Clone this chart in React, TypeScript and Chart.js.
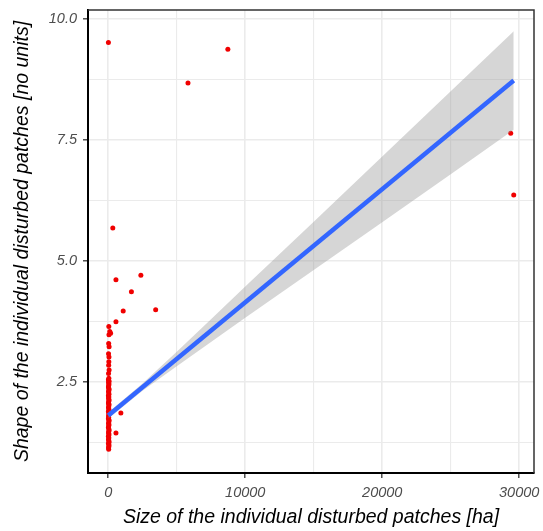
import React, { useEffect, useRef } from "react";
import { Chart, registerables } from "chart.js";

Chart.register(...registerables);

// Observed patches: size [ha] and shape [no units]
const patchSize = [
  10, 5820, 8730, 29380, 29600, 330, 560, 2380, 1690, 1090, 3460, 560, 920, 560,
  40, 110, 170, 50, 30, 60, 20, 50, 40, 30, 60, 20,
  40, 10, 60, 20, 50, 30, 10, 40, 60, 20, 30, 50, 10, 40, 20, 60, 30, 10, 50, 40,
  20, 30, 60, 10, 40, 50, 20, 30, 10, 60, 40, 20, 50, 30, 10, 40, 60, 20, 30, 50,
  10, 40, 20, 30, 60, 10, 50, 40, 20, 30,
];
const patchShape = [
  9.52, 8.68, 9.38, 7.64, 6.36, 5.68, 4.61, 4.7, 4.36, 3.96, 3.99, 3.74, 1.85, 1.44,
  3.64, 3.54, 3.5, 3.47, 3.29, 3.22, 3.08, 3.01, 2.91, 2.84, 2.74, 2.67,
  2.57, 2.54, 2.51, 2.48, 2.45, 2.42, 2.39, 2.36, 2.33, 2.3, 2.27, 2.24, 2.21, 2.18,
  2.15, 2.12, 2.09, 2.06, 2.03, 2.0, 1.97, 1.94, 1.91, 1.88, 1.85, 1.82, 1.79, 1.76,
  1.73, 1.7, 1.67, 1.64, 1.61, 1.58, 1.55, 1.52, 1.49, 1.46, 1.43, 1.4, 1.37, 1.34,
  1.31, 1.28, 1.25, 1.22, 1.19, 1.16, 1.13, 1.1, 1.07, 1.04,
];

// Linear fit and its confidence band
const fitX = [0, 29600];
const fitY = [1.8, 8.73];
const bandX = [0, 2500, 5000, 7500, 10000, 15000, 20000, 25000, 29600];
const bandUpper = [1.86, 2.46, 3.12, 3.79, 4.47, 5.81, 7.16, 8.51, 9.75];
const bandLower = [1.74, 2.31, 2.82, 3.32, 3.82, 4.81, 5.8, 6.79, 7.71];

// Axis ticks
const xTicks = [0, 5000, 10000, 15000, 20000, 25000, 30000];
const xMajor = [0, 10000, 20000, 30000];
const yTicks = [1.25, 2.5, 3.75, 5, 6.25, 7.5, 8.75, 10];
const yMajor = [2.5, 5, 7.5, 10];

const xTitle = "Size of the individual disturbed patches [ha]";
const yTitle = "Shape of the individual disturbed patches [no units]";

const FONT = "'Liberation Sans', Arial, sans-serif";

export default function App() {
  const ref = useRef<HTMLCanvasElement | null>(null);

  useEffect(() => {
    if (!ref.current) return;
    const points = patchSize.map((x, i) => ({ x, y: patchShape[i] }));
    const upper = bandX.map((x, i) => ({ x, y: bandUpper[i] }));
    const lower = bandX.map((x, i) => ({ x, y: bandLower[i] }));
    const fit = fitX.map((x, i) => ({ x, y: fitY[i] }));

    const panelBorder = {
      id: "panelBorder",
      afterDatasetsDraw(chart: any) {
        const { ctx, chartArea: a } = chart;
        ctx.save();
        ctx.strokeStyle = "#333333";
        ctx.lineWidth = 1.5;
        ctx.beginPath();
        ctx.moveTo(a.left, a.top);
        ctx.lineTo(a.right, a.top);
        ctx.lineTo(a.right, a.bottom);
        ctx.stroke();
        ctx.restore();
      },
    };

    const isMajorX = (v: number) => xMajor.includes(v);
    const isMajorY = (v: number) => yMajor.includes(v);

    const chart = new Chart(ref.current, {
      type: "scatter",
      data: {
        datasets: [
          {
            data: points,
            backgroundColor: "#F00000",
            borderWidth: 0,
            pointRadius: 2.5,
            order: 4,
          },
          {
            data: upper,
            showLine: true,
            pointRadius: 0,
            borderWidth: 0,
            borderColor: "rgba(0,0,0,0)",
            backgroundColor: "rgba(153,153,153,0.4)",
            fill: "+1",
            order: 3,
          },
          {
            data: lower,
            showLine: true,
            pointRadius: 0,
            borderWidth: 0,
            borderColor: "rgba(0,0,0,0)",
            fill: false,
            order: 3,
          },
          {
            data: fit,
            showLine: true,
            pointRadius: 0,
            borderColor: "#3366FF",
            borderWidth: 4.5,
            fill: false,
            order: 1,
          },
        ],
      },
      options: {
        animation: false,
        responsive: false,
        layout: { padding: { top: 10, right: 9, left: 0, bottom: 0 } },
        plugins: {
          legend: { display: false },
          tooltip: { enabled: false },
        },
        scales: {
          x: {
            type: "linear",
            min: -1480,
            max: 31080,
            afterBuildTicks: (axis: any) => {
              axis.ticks = xTicks.map((v) => ({ value: v }));
            },
            afterFit: (scale: any) => {
              scale.height = 58;
              scale.paddingLeft = 0;
              scale.paddingRight = 0;
            },
            ticks: {
              autoSkip: false,
              maxRotation: 0,
              padding: 6,
              color: "#4D4D4D",
              font: { family: FONT, size: 14.5, style: "italic" },
              callback: (v: any) => (isMajorX(Number(v)) ? String(v) : ""),
            },
            grid: {
              color: "#EBEBEB",
              lineWidth: (ctx: any) => (ctx.tick && isMajorX(ctx.tick.value) ? 1.6 : 1.1),
              drawTicks: true,
              tickLength: 5,
              tickWidth: 1.3,
              tickColor: (ctx: any) =>
                ctx.tick && isMajorX(ctx.tick.value) ? "#333333" : "rgba(0,0,0,0)",
            },
            border: { display: true, color: "#000000", width: 2 },
            title: {
              display: true,
              text: xTitle,
              color: "#000000",
              font: { family: FONT, size: 19.5, style: "italic" },
              padding: { top: 0, bottom: 2 },
            },
          },
          y: {
            type: "linear",
            min: 0.61,
            max: 10.19,
            afterBuildTicks: (axis: any) => {
              axis.ticks = yTicks.map((v) => ({ value: v }));
            },
            afterFit: (scale: any) => {
              scale.width = 88;
              scale.paddingTop = 0;
              scale.paddingBottom = 0;
            },
            ticks: {
              autoSkip: false,
              padding: 6,
              color: "#4D4D4D",
              font: { family: FONT, size: 14.5, style: "italic" },
              callback: (v: any) => (isMajorY(Number(v)) ? Number(v).toFixed(1) : ""),
            },
            grid: {
              color: "#EBEBEB",
              lineWidth: (ctx: any) => (ctx.tick && isMajorY(ctx.tick.value) ? 1.6 : 1.1),
              drawTicks: true,
              tickLength: 5,
              tickWidth: 1.3,
              tickColor: (ctx: any) =>
                ctx.tick && isMajorY(ctx.tick.value) ? "#333333" : "rgba(0,0,0,0)",
            },
            border: { display: true, color: "#000000", width: 2 },
            title: {
              display: true,
              text: yTitle,
              color: "#000000",
              font: { family: FONT, size: 19.5, style: "italic" },
              padding: { top: 11, bottom: 0 },
            },
          },
        },
      },
      plugins: [panelBorder],
    } as any);

    return () => chart.destroy();
  }, []);

  return (
    <div style={{ position: "absolute", left: 0, top: 0, width: 543, height: 531, background: "#fff" }}>
      <canvas ref={ref} width={543} height={531} style={{ display: "block" }} />
    </div>
  );
}
